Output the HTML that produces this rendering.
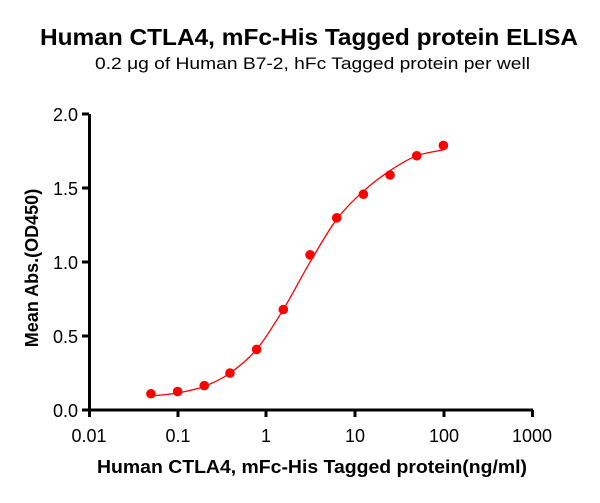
<!DOCTYPE html>
<html><head><meta charset="utf-8"><style>body{margin:0;background:#fff}</style></head><body>
<svg id="s" width="600" height="498" xmlns="http://www.w3.org/2000/svg" font-family="Liberation Sans, Arial, sans-serif">
<text x="40" y="45" textLength="538" lengthAdjust="spacingAndGlyphs" font-size="23" font-weight="bold">Human CTLA4, mFc-His Tagged protein ELISA</text>
<text x="95" y="69" textLength="435" lengthAdjust="spacingAndGlyphs" font-size="17">0.2 μg of Human B7-2, hFc Tagged protein per well</text>
<g stroke="#000" stroke-width="3" fill="none">
<path d="M89.5 114V411.5M88 410H533"/>
<path d="M82 114H89M82 188H89M82 262H89M82 336H89M82 410H89"/>
<path d="M89.5 410v7M178 410v7M266 410v7M355 410v7M444 410v7M532.5 410v7"/>
</g>
<g font-size="18" text-anchor="end">
<text x="78" y="121">2.0</text><text x="78" y="195">1.5</text><text x="78" y="269">1.0</text><text x="78" y="343">0.5</text><text x="78" y="417">0.0</text>
</g>
<g font-size="18" text-anchor="middle">
<text x="89" y="442">0.01</text><text x="178" y="442">0.1</text><text x="266" y="442">1</text><text x="355" y="442">10</text><text x="444" y="442">100</text><text x="532" y="442">1000</text>
</g>
<text x="97" y="473" textLength="430" lengthAdjust="spacingAndGlyphs" font-size="18" font-weight="bold">Human CTLA4, mFc-His Tagged protein(ng/ml)</text>
<text transform="translate(38,268) rotate(-90)" text-anchor="middle" font-size="18" font-weight="bold">Mean Abs.(OD450)</text>
<path id="c" fill="none" stroke="#f00" stroke-width="1.3"/>
<g id="p" fill="#f00"></g>
</svg>
<script>
var X=function(v){return 89+(Math.log10(v)+2)*88.6},Y=function(v){return 410-v*147.8};
var pts=[[0.05,0.11],[0.1,0.125],[0.2,0.165],[0.39,0.25],[0.78,0.41],[1.56,0.68],[3.125,1.05],[6.25,1.3],[12.5,1.46],[25,1.59],[50,1.72],[100,1.79]];
var cv=[0.095,0.115,0.16,0.25,0.41,0.68,1.0,1.29,1.48,1.62,1.72,1.76];
var P=pts.map(function(p,i){return [X(p[0]),Y(cv[i])]});
var d="M"+P[0][0]+" "+P[0][1];
for(var i=0;i<P.length-1;i++){var p0=P[i-1]||P[i],p1=P[i],p2=P[i+1],p3=P[i+2]||P[i+1];
d+="C"+(p1[0]+(p2[0]-p0[0])/6).toFixed(1)+" "+(p1[1]+(p2[1]-p0[1])/6).toFixed(1)+" "+(p2[0]-(p3[0]-p1[0])/6).toFixed(1)+" "+(p2[1]-(p3[1]-p1[1])/6).toFixed(1)+" "+p2[0].toFixed(1)+" "+p2[1].toFixed(1);}
document.getElementById("c").setAttribute("d",d);
var h="";
pts.forEach(function(p){h+='<circle cx="'+X(p[0])+'" cy="'+Y(p[1])+'" r="4.8"/>'});
document.getElementById("p").innerHTML=h;
</script>
</body></html>
